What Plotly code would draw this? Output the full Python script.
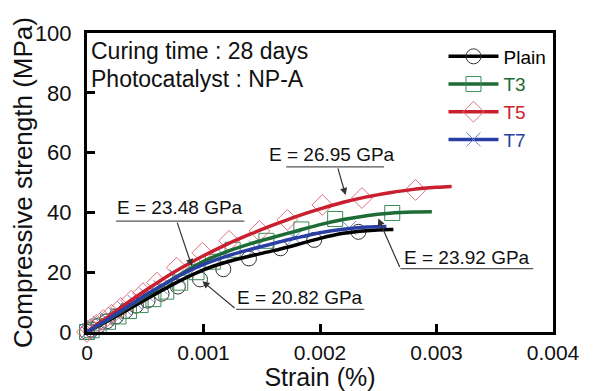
import plotly.graph_objects as go

FONT = "Liberation Sans, Arial, sans-serif"

# Fitted curves (strain %, stress MPa)
plain_x = [0, 0.0002, 0.0004, 0.0006, 0.0008, 0.0010, 0.0012, 0.0014, 0.0016, 0.0018, 0.0020, 0.0022, 0.0024, 0.0026, 0.00263]
plain_y = [0, 4.2, 8.6, 13.0, 17.2, 20.8, 23.4, 25.4, 27.2, 29.2, 31.3, 33.0, 33.9, 34.3, 34.3]
t3_x = [0, 0.0002, 0.0004, 0.0006, 0.0008, 0.0010, 0.0012, 0.0014, 0.0016, 0.0018, 0.0020, 0.0022, 0.0024, 0.0026, 0.0028, 0.00296]
t3_y = [0, 4.6, 9.5, 14.4, 19.2, 23.6, 26.9, 29.5, 31.7, 33.8, 35.9, 37.6, 38.9, 39.7, 40.1, 40.2]
t5_x = [0, 0.0002, 0.0004, 0.0006, 0.0008, 0.0010, 0.0012, 0.0014, 0.0016, 0.0018, 0.0020, 0.0022, 0.0024, 0.0026, 0.0028, 0.0030, 0.00313]
t5_y = [0, 5.6, 11.2, 16.4, 21.2, 25.5, 29.3, 32.7, 35.8, 38.7, 41.2, 43.4, 45.2, 46.6, 47.7, 48.4, 48.7]
t7_x = [0, 0.0002, 0.0004, 0.0006, 0.0008, 0.0010, 0.0012, 0.0014, 0.0016, 0.0018, 0.0020, 0.0022, 0.0024, 0.00257]
t7_y = [0, 4.8, 9.8, 14.6, 19.0, 22.6, 25.4, 27.6, 29.6, 31.5, 33.2, 34.4, 35.1, 35.3]

# Measured points (markers)
plain_mx = [0, 0.00004, 0.0001, 0.00017, 0.00025, 0.00033, 0.00042, 0.00052, 0.00064, 0.00078, 0.00097, 0.00117, 0.00139, 0.00166, 0.00195, 0.00233]
plain_my = [0, 0.8, 2.2, 3.6, 5.2, 7.0, 8.8, 10.5, 12.8, 15.2, 17.6, 21.0, 24.6, 28.0, 30.8, 33.5]
t3_mx = [0, 0.00004, 0.0001, 0.00018, 0.00027, 0.00036, 0.00046, 0.00057, 0.00068, 0.0008, 0.00094, 0.00108, 0.00125, 0.00154, 0.00184, 0.00213, 0.00262]
t3_my = [0, 0.6, 1.8, 3.4, 5.2, 7.0, 9.0, 11.0, 13.5, 16.5, 20.0, 23.5, 27.5, 30.5, 34.3, 37.8, 39.8]
t5_mx = [0, 0.00003, 0.00008, 0.00014, 0.00021, 0.00029, 0.00038, 0.00048, 0.0006, 0.00077, 0.00099, 0.00122, 0.00148, 0.00172, 0.00202, 0.00236, 0.00282]
t5_my = [0, 1.0, 2.4, 4.0, 5.8, 8.0, 10.5, 13.0, 16.5, 21.5, 26.5, 30.5, 33.8, 37.5, 42.5, 44.8, 47.5]
t7_mx = [0, 0.00002, 0.00006, 0.00011, 0.00017, 0.00024, 0.00032, 0.00041, 0.00051, 0.00063, 0.00077, 0.00095, 0.00118, 0.00145, 0.00178, 0.00225]
t7_my = [0, 0.6, 1.6, 3.0, 4.4, 6.0, 8.0, 10.0, 12.5, 15.0, 18.5, 22.0, 25.5, 28.2, 31.5, 34.8]

series = [
    ("Plain", plain_x, plain_y, plain_mx, plain_my, "#000000", "#333333", "circle-open", 15),
    ("T3", t3_x, t3_y, t3_mx, t3_my, "#1d6b35", "#3d8c58", "square-open", 15),
    ("T5", t5_x, t5_y, t5_mx, t5_my, "#c91f2f", "#e0707e", "diamond-open", 16),
    ("T7", t7_x, t7_y, t7_mx, t7_my, "#2a3fa3", "#6d82d4", "x-thin-open", 14),
]

fig = go.Figure()
for name, lx, ly, mx, my, lc, mc, sym, sz in series:
    fig.add_trace(go.Scatter(x=mx, y=my, mode="markers", showlegend=False, cliponaxis=False,
                             marker=dict(symbol=sym, size=sz, color=mc, line=dict(color=mc, width=1))))
for name, lx, ly, mx, my, lc, mc, sym, sz in series:
    fig.add_trace(go.Scatter(x=lx, y=ly, mode="lines", showlegend=False, cliponaxis=False,
                             line=dict(color=lc, width=3.5, shape="spline")))
for name, lx, ly, mx, my, lc, mc, sym, sz in series:
    fig.add_trace(go.Scatter(x=[None], y=[None], mode="lines+markers",
                             name=f"<span style='color:{lc}'>{name}</span>",
                             line=dict(color=lc, width=3.5),
                             marker=dict(symbol=sym, size=sz, color=mc, line=dict(color=mc, width=1))))

# Modulus labels: (text, text x, text y, underline x0, x1, y, arrow tail x, y, head x, y)
e_labels = [
    ("E = 26.95 GPa", 0.00210, 59.3, 0.00171, 0.00255, 55.2, 0.00215, 55.2, 0.00222, 45.8),
    ("E = 23.48 GPa", 0.00080, 41.5, 0.00025, 0.00135, 37.1, 0.00077, 37.1, 0.00090, 22.0),
    ("E = 20.82 GPa", 0.00183, 11.4, 0.00128, 0.00238, 7.6, 0.00128, 7.6, 0.00099, 17.0),
    ("E = 23.92 GPa", 0.00326, 24.8, 0.00269, 0.00383, 21.2, 0.00269, 21.2, 0.00250, 38.0),
]
for txt, tx, ty, ux0, ux1, uy, ax_, ay_, hx, hy in e_labels:
    fig.add_annotation(x=tx, y=ty, text=txt, showarrow=False, xref="x", yref="y",
                       font=dict(family=FONT, size=19, color="#111111"))
    fig.add_shape(type="line", x0=ux0, x1=ux1, y0=uy, y1=uy, xref="x", yref="y",
                  line=dict(color="#555555", width=1.2))
    fig.add_annotation(x=hx, y=hy, ax=ax_, ay=ay_, axref="x", ayref="y", xref="x", yref="y",
                       text="", showarrow=True, arrowhead=2, arrowsize=1.2, arrowwidth=1.2,
                       arrowcolor="#333333", standoff=0, startstandoff=0)

fig.add_annotation(xref="paper", yref="paper", x=0.005, y=0.94, xanchor="left", yanchor="middle",
                   text="Curing time : 28 days", showarrow=False,
                   font=dict(family=FONT, size=23, color="#111111"))
fig.add_annotation(xref="paper", yref="paper", x=0.005, y=0.845, xanchor="left", yanchor="middle",
                   text="Photocatalyst : NP-A", showarrow=False,
                   font=dict(family=FONT, size=23, color="#111111"))

axis_common = dict(showline=True, linecolor="black", linewidth=3, mirror=True,
                   ticks="inside", ticklen=8, tickwidth=3, tickcolor="black",
                   showgrid=False, zeroline=False, automargin=False)
fig.update_xaxes(range=[0, 0.004], tickvals=[0, 0.001, 0.002, 0.003, 0.004],
                 ticktext=["0", "0.001", "0.002", "0.003", "0.004"],
                 tickfont=dict(family=FONT, size=21, color="#111111"),
                 title=dict(text="Strain (%)", font=dict(family=FONT, size=25, color="#111111"), standoff=0),
                 **axis_common)
fig.update_yaxes(range=[0, 100], tickvals=[0, 20, 40, 60, 80, 100],
                 ticktext=["0", "20", "40", "60", "80", "100"], ticklabelstandoff=8,
                 tickfont=dict(family=FONT, size=22, color="#111111"),
                 title=dict(text="Compressive strength (MPa)", font=dict(family=FONT, size=26, color="#111111"), standoff=4),
                 **axis_common)

# The page body adds an 8px offset, so the figure is 8px smaller and margins shifted.
fig.update_layout(
    width=590, height=383,
    margin=dict(l=79, r=45, t=25, b=59),
    paper_bgcolor="white", plot_bgcolor="white",
    legend=dict(x=0.765, y=0.985, xanchor="left", yanchor="top", bgcolor="rgba(0,0,0,0)",
                font=dict(family=FONT, size=19, color="#111111"), itemwidth=50,
                tracegroupgap=0, itemsizing="trace"),
)

fig.write_html("out.html")
